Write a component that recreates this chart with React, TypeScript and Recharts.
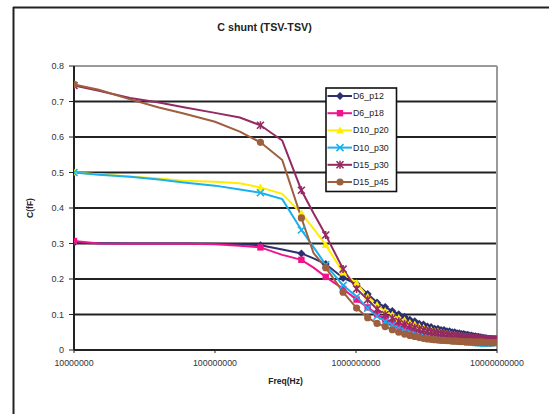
import React from 'react';
import { LineChart, Line, XAxis, YAxis, CartesianGrid, ReferenceLine } from 'recharts';

const FONT = "Arial, 'Liberation Sans', sans-serif";

// Frequencies (Hz)
const freqs: number[] = [
  1e7, 1.5e7, 2.5e7, 4e7, 6e7, 1e8, 1.5e8, 2.1e8, 3e8, 4.1e8, 5e8, 6.1e8,
  810e6, 1010e6, 1210e6, 1410e6, 1610e6, 1810e6, 2010e6, 2210e6, 2410e6, 2610e6,
  2810e6, 3010e6, 3210e6, 3410e6, 3610e6, 3810e6, 4010e6, 4210e6, 4410e6, 4610e6,
  4810e6, 5010e6, 5210e6, 5410e6, 5610e6, 5810e6, 6010e6, 6210e6, 6410e6, 6610e6,
  6810e6, 7010e6, 7210e6, 7410e6, 7610e6, 7810e6, 8010e6, 8210e6, 8410e6, 8610e6,
  8810e6, 9010e6, 9210e6, 9410e6, 9610e6, 9810e6,
];

// Whether a measured point shows a marker
const hasMarker: number[] = [
  1, 0, 0, 0, 0, 0, 0, 1, 0, 1, 0, 1,
  1, 1, 1, 1, 1, 1, 1, 1, 1, 1, 1, 1, 1, 1, 1, 1, 1, 1, 1, 1, 1, 1, 1, 1, 1, 1, 1, 1,
  1, 1, 1, 1, 1, 1, 1, 1, 1, 1, 1, 1, 1, 1, 1, 1, 1, 1,
];

const D6_p12: number[] = [
  0.302, 0.301, 0.300, 0.300, 0.300, 0.299, 0.298, 0.295, 0.283, 0.272, 0.258, 0.242,
  0.203, 0.186, 0.158, 0.134, 0.121, 0.110, 0.101, 0.094, 0.085, 0.081, 0.074, 0.072,
  0.066, 0.065, 0.060, 0.060, 0.056, 0.056, 0.053, 0.053, 0.050, 0.050, 0.047, 0.047,
  0.045, 0.045, 0.043, 0.043, 0.041, 0.041, 0.039, 0.039, 0.037, 0.037, 0.036, 0.035,
  0.034, 0.034, 0.033, 0.032, 0.032, 0.031, 0.030, 0.029,
];
const D6_p18: number[] = [
  0.307, 0.300, 0.299, 0.299, 0.299, 0.298, 0.294, 0.289, 0.268, 0.254, 0.232, 0.206,
  0.172, 0.142, 0.120, 0.101, 0.086, 0.077, 0.069, 0.065, 0.059, 0.056, 0.052, 0.050,
  0.047, 0.046, 0.043, 0.043, 0.041, 0.041, 0.039, 0.038, 0.037, 0.036, 0.035, 0.035,
  0.034, 0.033, 0.033, 0.032, 0.032, 0.031, 0.031, 0.030, 0.030, 0.029, 0.029, 0.028,
  0.028, 0.028, 0.027, 0.027, 0.027, 0.026, 0.026, 0.026, 0.025, 0.025,
].slice(0, 58);
const D10_p20: number[] = [
  0.500, 0.495, 0.489, 0.483, 0.477, 0.474, 0.470, 0.458, 0.440, 0.385, 0.342, 0.296,
  0.218, 0.188, 0.150, 0.127, 0.110, 0.099, 0.090, 0.084, 0.076, 0.072, 0.066, 0.063,
  0.058, 0.056, 0.053, 0.052, 0.049, 0.048, 0.046, 0.045, 0.043, 0.042, 0.041, 0.040,
  0.039, 0.038, 0.037, 0.036, 0.036, 0.035, 0.034, 0.034, 0.033, 0.032, 0.032, 0.031,
  0.031, 0.030, 0.030, 0.029, 0.029, 0.028, 0.028, 0.028, 0.027, 0.027,
];
const D10_p30: number[] = [
  0.500, 0.494, 0.488, 0.480, 0.472, 0.463, 0.452, 0.443, 0.425, 0.338, 0.290, 0.240,
  0.182, 0.150, 0.118, 0.095, 0.080, 0.070, 0.061, 0.055, 0.050, 0.046, 0.043, 0.040,
  0.038, 0.036, 0.034, 0.033, 0.032, 0.031, 0.030, 0.029, 0.028, 0.027, 0.026, 0.026,
  0.025, 0.024, 0.024, 0.023, 0.023, 0.022, 0.022, 0.021, 0.021, 0.020, 0.020, 0.020,
  0.019, 0.019, 0.019, 0.019, 0.020, 0.020, 0.021, 0.021, 0.021, 0.022,
];
const D15_p30: number[] = [
  0.745, 0.730, 0.710, 0.697, 0.684, 0.668, 0.655, 0.633, 0.590, 0.450, 0.385, 0.324,
  0.228, 0.172, 0.142, 0.115, 0.100, 0.090, 0.081, 0.074, 0.068, 0.063, 0.059, 0.056,
  0.053, 0.051, 0.049, 0.047, 0.046, 0.044, 0.043, 0.042, 0.041, 0.040, 0.039, 0.038,
  0.037, 0.037, 0.036, 0.035, 0.035, 0.034, 0.034, 0.033, 0.033, 0.032, 0.032, 0.032,
  0.031, 0.031, 0.031, 0.030, 0.030, 0.030, 0.030, 0.030, 0.030, 0.030,
];
const D15_p45: number[] = [
  0.748, 0.733, 0.706, 0.683, 0.666, 0.643, 0.615, 0.585, 0.535, 0.372, 0.273, 0.232,
  0.163, 0.118, 0.091, 0.075, 0.066, 0.057, 0.050, 0.045, 0.041, 0.038, 0.035, 0.033,
  0.031, 0.030, 0.029, 0.028, 0.027, 0.027, 0.026, 0.026, 0.025, 0.025, 0.025, 0.024,
  0.024, 0.024, 0.023, 0.023, 0.023, 0.023, 0.022, 0.022, 0.022, 0.022, 0.022, 0.022,
  0.022, 0.021, 0.021, 0.021, 0.021, 0.021, 0.021, 0.021, 0.021, 0.021,
];

const xTicks: number[] = [1e7, 1e8, 1e9, 1e10];
const yTicks: number[] = [0, 0.1, 0.2, 0.3, 0.4, 0.5, 0.6, 0.7, 0.8];
const gridValues: number[] = [0.1, 0.2, 0.3, 0.4, 0.5, 0.6, 0.7];

type Shape = 'diamond' | 'square' | 'triangle' | 'x' | 'star' | 'circle';

const seriesList: { key: string; name: string; values: number[]; color: string; shape: Shape }[] = [
  { key: 's1', name: 'D6_p12', values: D6_p12, color: '#2E2F6E', shape: 'diamond' },
  { key: 's2', name: 'D6_p18', values: D6_p18, color: '#F0148C', shape: 'square' },
  { key: 's3', name: 'D10_p20', values: D10_p20, color: '#FFEE00', shape: 'triangle' },
  { key: 's4', name: 'D10_p30', values: D10_p30, color: '#1AB0EE', shape: 'x' },
  { key: 's5', name: 'D15_p30', values: D15_p30, color: '#932A62', shape: 'star' },
  { key: 's6', name: 'D15_p45', values: D15_p45, color: '#9E5F3E', shape: 'circle' },
];

const data = freqs.map((f, i) => {
  const row: any = { f, m: hasMarker[i] };
  seriesList.forEach((s) => {
    row[s.key] = s.values[i];
  });
  return row;
});

function marker(shape: Shape, cx: number, cy: number, color: string, key?: string) {
  switch (shape) {
    case 'diamond':
      return <polygon key={key} points={`${cx},${cy - 4} ${cx + 4},${cy} ${cx},${cy + 4} ${cx - 4},${cy}`} fill={color} />;
    case 'square':
      return <rect key={key} x={cx - 3.2} y={cy - 3.2} width={6.4} height={6.4} fill={color} />;
    case 'triangle':
      return <polygon key={key} points={`${cx},${cy - 4} ${cx + 4},${cy + 3} ${cx - 4},${cy + 3}`} fill={color} />;
    case 'x':
      return (
        <g key={key} stroke={color} strokeWidth={1.6}>
          <line x1={cx - 3.5} y1={cy - 3.5} x2={cx + 3.5} y2={cy + 3.5} />
          <line x1={cx - 3.5} y1={cy + 3.5} x2={cx + 3.5} y2={cy - 3.5} />
        </g>
      );
    case 'star':
      return (
        <g key={key} stroke={color} strokeWidth={1.6}>
          <line x1={cx - 3.5} y1={cy - 3.5} x2={cx + 3.5} y2={cy + 3.5} />
          <line x1={cx - 3.5} y1={cy + 3.5} x2={cx + 3.5} y2={cy - 3.5} />
          <line x1={cx} y1={cy - 4} x2={cx} y2={cy + 4} />
        </g>
      );
    case 'circle':
    default:
      return <circle key={key} cx={cx} cy={cy} r={3.6} fill={color} />;
  }
}

function makeDot(shape: Shape, color: string, skey: string) {
  return (props: any) => {
    const { cx, cy, payload, index } = props;
    const k = `${skey}-${index}`;
    if (!payload || !payload.m || cx == null || cy == null) return <g key={k} />;
    return marker(shape, cx, cy, color, k);
  };
}

export default function App() {
  const legendTop = 96;
  const legendStep = 17.2;
  return (
    <div style={{ position: 'absolute', left: 0, top: 0, width: 549, height: 414, overflow: 'hidden', background: '#fff' }}>
      <LineChart
        width={549}
        height={414}
        data={data}
        margin={{ top: 66, right: 52, bottom: 44, left: 44 }}
        style={{ position: 'absolute', left: 0, top: 0 }}
      >
        <CartesianGrid vertical={false} horizontalValues={gridValues} stroke="#222" strokeWidth={2} />
        <ReferenceLine y={0.8} stroke="#9a9a9a" strokeWidth={2} />
        <ReferenceLine x={1e10} stroke="#9a9a9a" strokeWidth={2} />
        <XAxis
          dataKey="f"
          type="number"
          scale="log"
          domain={[1e7, 1e10]}
          ticks={xTicks}
          allowDataOverflow
          height={20}
          tickFormatter={(v: number) => v.toFixed(0)}
          axisLine={{ stroke: '#222', strokeWidth: 2 }}
          tickLine={{ stroke: '#222' }}
          tickSize={3}
          tickMargin={7}
          tick={{ fontSize: 8.8, fill: '#333', fontFamily: FONT }}
        />
        <YAxis
          type="number"
          domain={[0, 0.8]}
          ticks={yTicks}
          width={30}
          tickFormatter={(v: number) => String(v)}
          axisLine={{ stroke: '#222', strokeWidth: 2 }}
          tickLine={{ stroke: '#222' }}
          tickSize={5}
          tickMargin={5}
          tick={{ fontSize: 9, fill: '#333', fontFamily: FONT }}
        />
        {seriesList.map((s) => (
          <Line
            key={s.key}
            dataKey={s.key}
            name={s.name}
            type="linear"
            stroke={s.color}
            strokeWidth={2}
            dot={makeDot(s.shape, s.color, s.key)}
            activeDot={false}
            isAnimationActive={false}
          />
        ))}
      </LineChart>
      <svg width={549} height={414} style={{ position: 'absolute', left: 0, top: 0, pointerEvents: 'none' }}>
        <line x1={13.5} y1={7} x2={13.5} y2={414} stroke="#222" strokeWidth={2} />
        <line x1={13} y1={7.5} x2={549} y2={7.5} stroke="#222" strokeWidth={2} />
        <text x={264.5} y={27} textAnchor="middle" dominantBaseline="central" fontFamily={FONT} fontSize={10.7} fontWeight="bold" fill="#222">
          C shunt (TSV-TSV)
        </text>
        <text
          x={30}
          y={208}
          textAnchor="middle"
          dominantBaseline="central"
          fontFamily={FONT}
          fontSize={8.5}
          fontWeight="bold"
          fill="#222"
          transform="rotate(-90 30 208)"
        >
          C(fF)
        </text>
        <text x={285.5} y={381} textAnchor="middle" dominantBaseline="central" fontFamily={FONT} fontSize={8.5} fontWeight="bold" fill="#222">
          Freq(Hz)
        </text>
        <rect x={326} y={88} width={70.5} height={103.5} fill="#fff" stroke="#111" strokeWidth={1.6} />
        {seriesList.map((s, i) => {
          const y = legendTop + i * legendStep;
          return (
            <g key={s.key}>
              <line x1={327.5} y1={y} x2={352} y2={y} stroke={s.color} strokeWidth={2} />
              {marker(s.shape, 340, y, s.color)}
              <text x={353} y={y} dominantBaseline="central" fontFamily={FONT} fontSize={8.8} fill="#222">
                {s.name}
              </text>
            </g>
          );
        })}
      </svg>
    </div>
  );
}
